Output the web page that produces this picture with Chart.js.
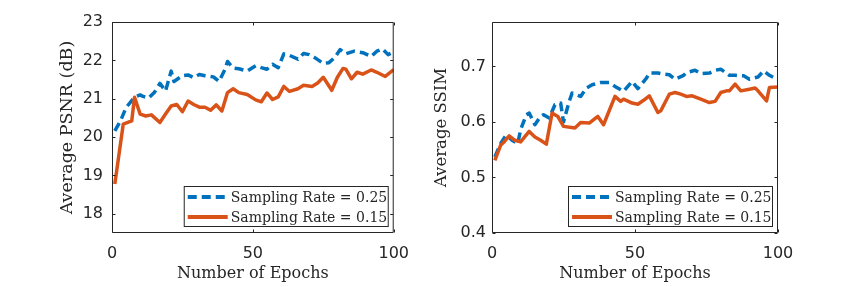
<!DOCTYPE html>
<html>
<head>
<meta charset="utf-8">
<script src="https://cdn.jsdelivr.net/npm/chart.js@4.4.0/dist/chart.umd.min.js"></script>
<style>
  html, body { margin: 0; padding: 0; background: #fff; }
  #wrap { position: relative; width: 863px; height: 287px; }
  #left { position: absolute; left: 0; top: 0; }
  #right { position: absolute; left: 420px; top: 0; }
</style>
</head>
<body>
<div id="wrap">
  <canvas id="left" width="420" height="287"></canvas>
  <canvas id="right" width="443" height="287"></canvas>
</div>
<script>
// series labels
const seriesLabels = ["Sampling Rate = 0.25", "Sampling Rate = 0.15"];

// x ticks shared by both panels
const epochTicks = [0, 50, 100];

// left panel: average PSNR (dB)
const psnrEpochs25 = [1, 3, 5, 8, 10, 11, 13, 15, 17, 19, 21, 22, 25, 27, 29, 31, 33, 36, 38, 40, 41, 43, 45, 48, 51, 53, 55, 57, 59, 61, 63, 66, 68, 70, 72, 75, 77, 79, 81, 83, 86, 89, 92, 94, 96, 98, 100];
const psnr25 = [20.16, 20.42, 20.77, 21.04, 21.1, 21.06, 21.02, 21.16, 21.4, 21.2, 21.72, 21.45, 21.6, 21.62, 21.55, 21.63, 21.6, 21.57, 21.45, 21.75, 21.97, 21.8, 21.78, 21.72, 21.86, 21.81, 21.77, 21.9, 21.81, 22.17, 22.13, 22.03, 22.18, 22.15, 22.07, 21.92, 21.94, 22.07, 22.28, 22.17, 22.24, 22.2, 22.1, 22.24, 22.3, 22.15, 22.22];
const psnrEpochs15 = [1, 4, 7, 8, 10, 12, 14, 17, 19, 21, 23, 25, 27, 29, 31, 33, 35, 37, 39, 41, 43, 45, 48, 51, 53, 55, 57, 59, 61, 63, 66, 68, 71, 73, 75, 78, 80, 82, 83, 85, 87, 89, 92, 94, 97, 100];
const psnr15 = [18.78, 20.34, 20.42, 21.04, 20.6, 20.55, 20.58, 20.38, 20.6, 20.81, 20.85, 20.66, 20.94, 20.85, 20.78, 20.78, 20.7, 20.84, 20.68, 21.16, 21.26, 21.16, 21.11, 20.97, 20.92, 21.15, 20.98, 21.05, 21.32, 21.19, 21.26, 21.35, 21.32, 21.41, 21.56, 21.22, 21.56, 21.79, 21.77, 21.52, 21.69, 21.64, 21.75, 21.69, 21.58, 21.76];
const psnrTicks = [18, 19, 20, 21, 22, 23];

// right panel: average SSIM
const ssimEpochs25 = [1, 3, 5, 7, 9, 10, 12, 13, 15, 17, 18, 20, 22, 24, 25, 27, 28, 31, 33, 35, 38, 41, 43, 46, 49, 51, 54, 55, 58, 60, 62, 64, 67, 68, 71, 73, 76, 78, 80, 83, 85, 88, 90, 93, 95, 97, 100];
const ssim25 = [0.537, 0.561, 0.577, 0.567, 0.561, 0.586, 0.613, 0.616, 0.595, 0.61, 0.613, 0.607, 0.631, 0.634, 0.6, 0.637, 0.652, 0.646, 0.661, 0.667, 0.671, 0.671, 0.664, 0.655, 0.673, 0.66, 0.679, 0.688, 0.688, 0.686, 0.685, 0.677, 0.684, 0.689, 0.693, 0.687, 0.688, 0.693, 0.695, 0.684, 0.684, 0.683, 0.677, 0.681, 0.692, 0.684, 0.676];
const ssimEpochs15 = [1, 3, 4, 6, 8, 10, 13, 15, 17, 19, 21, 23, 25, 29, 31, 34, 37, 39, 43, 45, 46, 49, 51, 53, 55, 58, 59, 62, 64, 66, 68, 70, 73, 76, 78, 80, 82, 83, 85, 87, 90, 92, 93, 96, 97, 100];
const ssim15 = [0.531, 0.558, 0.563, 0.575, 0.567, 0.564, 0.583, 0.573, 0.567, 0.56, 0.616, 0.61, 0.592, 0.589, 0.599, 0.598, 0.61, 0.595, 0.646, 0.637, 0.641, 0.634, 0.632, 0.639, 0.647, 0.617, 0.62, 0.65, 0.653, 0.65, 0.646, 0.647, 0.641, 0.635, 0.637, 0.653, 0.656, 0.656, 0.668, 0.656, 0.659, 0.661, 0.656, 0.638, 0.662, 0.663];
const ssimTicks = [0.4, 0.5, 0.6, 0.7];

const BLUE = "#0072BD";
const ORANGE = "#D95319";
const AXIS = "#262626";
const SERIF = "'DejaVu Serif', serif";
const SANS = "'DejaVu Sans', sans-serif";

function toPoints(xs, ys) {
  return xs.map((x, i) => ({ x: x, y: ys[i] }));
}

// box around the axes plus inward tick marks, like matlab
const framePlugin = {
  id: "frame",
  afterDatasetsDraw(chart) {
    const { ctx, chartArea: a, scales } = chart;
    const L = a.left + 0.5, R = a.right - 0.5, T = a.top + 0.5, B = a.bottom - 0.5;
    ctx.save();
    ctx.strokeStyle = AXIS;
    ctx.lineWidth = 1;
    ctx.beginPath();
    ctx.rect(L, T, R - L, B - T);
    scales.x.ticks.forEach(t => {
      const px = Math.round(scales.x.getPixelForValue(t.value)) + 0.5;
      ctx.moveTo(px, B); ctx.lineTo(px, B - 3);
      ctx.moveTo(px, T); ctx.lineTo(px, T + 3);
    });
    scales.y.ticks.forEach(t => {
      const py = Math.round(scales.y.getPixelForValue(t.value)) + 0.5;
      ctx.moveTo(L, py); ctx.lineTo(L + 3, py);
      ctx.moveTo(R, py); ctx.lineTo(R - 3, py);
    });
    ctx.stroke();
    ctx.restore();
  }
};

// legend box in the lower right corner of the axes
const legendPlugin = {
  id: "boxLegend",
  afterDraw(chart) {
    const { ctx, chartArea: a } = chart;
    const w = 205, h = 41;
    const x0 = a.right - 5 - w, y0 = a.bottom - 6 - h;
    ctx.save();
    ctx.fillStyle = "#fff";
    ctx.fillRect(x0, y0, w, h);
    ctx.strokeStyle = AXIS;
    ctx.lineWidth = 1;
    ctx.strokeRect(x0 + 0.5, y0 + 0.5, w - 1, h - 1);
    chart.data.datasets.forEach((ds, i) => {
      const y = y0 + 11 + i * 20;
      ctx.strokeStyle = ds.borderColor;
      ctx.lineWidth = 4;
      ctx.setLineDash(ds.borderDash || []);
      ctx.beginPath();
      ctx.moveTo(x0 + 4, y);
      ctx.lineTo(x0 + 44, y);
      ctx.stroke();
      ctx.setLineDash([]);
      ctx.fillStyle = AXIS;
      ctx.font = "14px " + SERIF;
      ctx.textBaseline = "middle";
      ctx.textAlign = "left";
      ctx.fillText(ds.label, x0 + 47, y + 1);
    });
    ctx.restore();
  }
};

function makeChart(id, opt) {
  return new Chart(document.getElementById(id), {
    type: "line",
    data: {
      datasets: [
        {
          label: seriesLabels[0],
          data: toPoints(opt.x25, opt.y25),
          borderColor: BLUE,
          borderWidth: 3.5,
          borderDash: [9, 5],
          borderJoinStyle: "round",
          pointRadius: 0,
          order: 1
        },
        {
          label: seriesLabels[1],
          data: toPoints(opt.x15, opt.y15),
          borderColor: ORANGE,
          borderWidth: 3.5,
          borderJoinStyle: "round",
          pointRadius: 0,
          order: 0
        }
      ]
    },
    options: {
      responsive: false,
      animation: false,
      devicePixelRatio: 1,
      layout: { padding: { left: 0, right: opt.padRight, top: 22, bottom: 0 } },
      plugins: { legend: { display: false }, tooltip: { enabled: false } },
      scales: {
        x: {
          type: "linear",
          min: 0,
          max: 100,
          afterBuildTicks: s => { s.ticks = epochTicks.map(v => ({ value: v })); },
          afterFit: s => { s.height = 54; },
          grid: { display: false, drawTicks: false },
          border: { display: false },
          ticks: { color: AXIS, font: { family: SANS, size: 16 }, padding: 11, maxRotation: 0 },
          title: {
            display: true,
            text: "Number of Epochs",
            color: AXIS,
            font: { family: SERIF, size: 16 },
            padding: { top: 0, bottom: 3.4 }
          }
        },
        y: {
          min: opt.yMin,
          max: opt.yMax,
          afterBuildTicks: s => { s.ticks = opt.yTicks.map(v => ({ value: v })); },
          afterFit: s => { s.width = opt.yWidth; },
          grid: { display: false, drawTicks: false },
          border: { display: false },
          ticks: { color: AXIS, font: { family: SANS, size: 16 }, padding: opt.tickPad },
          title: {
            display: true,
            text: opt.yTitle,
            color: AXIS,
            font: { family: SERIF, size: opt.titleSize },
            padding: { top: opt.titlePad, bottom: 0 }
          }
        }
      }
    },
    plugins: [framePlugin, legendPlugin]
  });
}

makeChart("left", {
  x25: psnrEpochs25, y25: psnr25, x15: psnrEpochs15, y15: psnr15,
  yMin: 17.5, yMax: 23, yTicks: psnrTicks, yTitle: "Average PSNR (dB)",
  yWidth: 112, padRight: 22, tickPad: 9, titlePad: 56.5, titleSize: 17.5
});

makeChart("right", {
  x25: ssimEpochs25, y25: ssim25, x15: ssimEpochs15, y15: ssim15,
  yMin: 0.4, yMax: 0.78, yTicks: ssimTicks, yTitle: "Average SSIM",
  yWidth: 72, padRight: 85, tickPad: 6, titlePad: 12.1, titleSize: 16.5
});
</script>
</body>
</html>
